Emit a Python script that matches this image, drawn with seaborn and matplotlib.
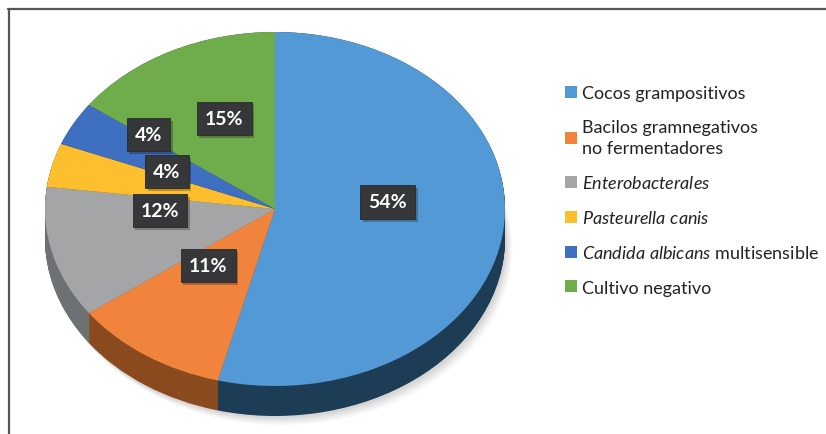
import numpy as np
import matplotlib
matplotlib.use("Agg")
import matplotlib.pyplot as plt
import matplotlib.colors as mcolors
from matplotlib.lines import Line2D
from matplotlib.patches import Patch
from matplotlib import transforms
import seaborn as sns

# ---- data ----
categories = [
    "Cocos grampositivos",
    "Bacilos gramnegativos\nno fermentadores",
    r"$\mathit{Enterobacterales}$",
    r"$\mathit{Pasteurella\ canis}$",
    r"$\mathit{Candida\ albicans}$ multisensible",
    "Cultivo negativo",
]
values = [54, 11, 12, 4, 4, 15]
colors = ["#5399d5", "#f1843d", "#a3a5a6", "#fdbf2d", "#3f6fc0", "#6fad4c"]

# label box centres (layout, in unit-pie coordinates)
label_x = [0.49, -0.29, -0.50, -0.47, -0.55, -0.22]
label_y = [0.04, -0.32, -0.01, 0.21, 0.42, 0.51]

sns.set_theme(style="white")
plt.rcParams["font.family"] = ["Lato", "DejaVu Sans"]
plt.rcParams["mathtext.fontset"] = "custom"
plt.rcParams["mathtext.it"] = "Lato:italic"
plt.rcParams["mathtext.rm"] = "Lato"

W, H = 826, 435
fig = plt.figure(figsize=(W / 100, H / 100), dpi=100)
fig.patch.set_facecolor("white")

# pie geometry in pixels
cx, cy, rx, ry = 275, 210, 230, 177
depth_px = 30
left_px, right_px = cx - rx, cx + rx
top_px, bottom_px = cy - ry, cy + ry + depth_px
m = 6  # margin px
ax = fig.add_axes([
    (left_px - m) / W,
    (H - bottom_px - m) / H,
    (right_px - left_px + 2 * m) / W,
    (bottom_px - top_px + 2 * m) / H,
])
depth = depth_px / ry

# soft shadow
for k, a in enumerate([0.07, 0.06, 0.05, 0.04]):
    off = 0.015 + 0.012 * k
    ax.pie(values, colors=["#404040"] * len(values), startangle=90,
           counterclock=False, radius=1.0,
           center=(off * 0.6, -depth - off),
           wedgeprops=dict(linewidth=0, alpha=a))

# side band
dark = []
for c in colors:
    r, g, b = mcolors.to_rgb(c)
    dark.append((r * 0.45, g * 0.45, b * 0.5))
dark[0] = "#1d3c55"
dark[1] = "#8b4a1d"
dark[2] = "#6d7174"
for off in np.linspace(depth, 0.0, 40):
    ax.pie(values, colors=dark, startangle=90, counterclock=False,
           radius=1.0, center=(0, -off), wedgeprops=dict(linewidth=0))

# top face
ax.pie(values, colors=colors, startangle=90, counterclock=False,
       radius=1.0, center=(0, 0), wedgeprops=dict(linewidth=0))

ax.set_aspect("auto")
mx = m / rx
my = m / ry
ax.set_xlim(-1 - mx, 1 + mx)
ax.set_ylim(-1 - depth - my, 1 + my)
ax.axis("off")

# percentage labels
for v, lx, ly in zip(values, label_x, label_y):
    sh = transforms.offset_copy(ax.transData, fig=fig, x=2.5, y=-3, units="dots")
    ax.text(lx, ly, f"{v}%", transform=sh, ha="center", va="center",
            fontsize=14, fontweight="bold", color=(0, 0, 0, 0),
            bbox=dict(boxstyle="square,pad=0.42", facecolor="#000000",
                      alpha=0.25, edgecolor="none"))
    ax.text(lx, ly, f"{v}%", ha="center", va="center", fontsize=14,
            fontweight="bold", color="white",
            bbox=dict(boxstyle="square,pad=0.42", facecolor="#363738",
                      edgecolor="#2a2a2a", linewidth=0.6))

# legend
handles = [Patch(facecolor=c, edgecolor="none") for c in colors]
leg = fig.legend(handles, categories, loc="upper left",
                 bbox_to_anchor=(556 / W, 1 - 77 / H), frameon=False,
                 fontsize=13, handlelength=0.65, handleheight=0.65,
                 handletextpad=0.3, labelspacing=1.0, borderpad=0.0)
for t in leg.get_texts():
    t.set_color("#222222")
    t.set_linespacing(1.4)

# frame lines (top and left)
lc = "#555555"
fig.add_artist(Line2D([8 / W, 1.0], [1 - 9.5 / H, 1 - 9.5 / H],
                      transform=fig.transFigure, color=lc, linewidth=1.6))
fig.add_artist(Line2D([8.5 / W, 8.5 / W], [0.0, 1 - 9.5 / H],
                      transform=fig.transFigure, color=lc, linewidth=1.6))

fig.savefig("out.png", dpi=100)
